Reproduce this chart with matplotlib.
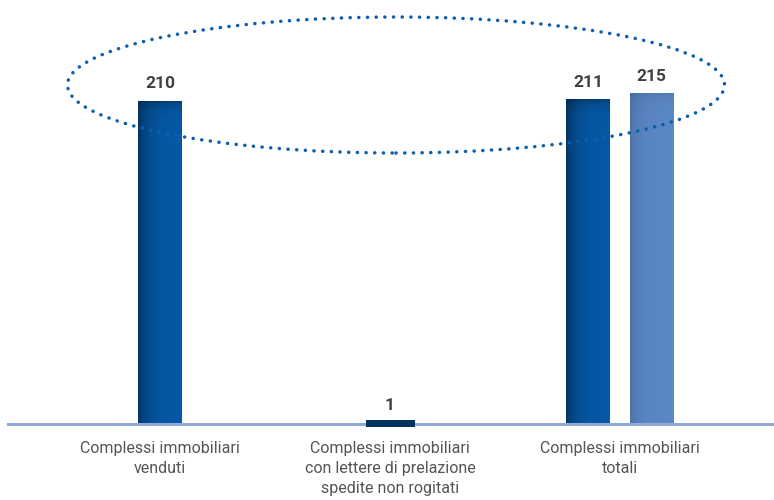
import numpy as np
import matplotlib
matplotlib.use("Agg")
import matplotlib.pyplot as plt
from matplotlib.patches import Ellipse
from matplotlib.colors import to_rgb

# data
categories = ["Complessi immobiliari\nvenduti",
              "Complessi immobiliari\ncon lettere di prelazione\nspedite non rogitati",
              "Complessi immobiliari\ntotali"]
venduti = [210, 1, 211]      # first series, every category
totali_b = [None, None, 215]  # second series, only the last category
series_colors = ["#0659a7", "#5b88c6"]


def shade_bar(ax, rect, base, left_px=11, top_px=6, left_amt=0.40, top_amt=0.28):
    """Overlay a darkened inner shadow (left and top edges) on a bar."""
    x0, y0 = rect.get_x(), rect.get_y()
    w, h = rect.get_width(), rect.get_height()
    (px0, py0), (px1, py1) = ax.transData.transform([(x0, y0), (x0 + w, y0 + h)])
    wpx, hpx = max(px1 - px0, 1), max(py1 - py0, 1)
    nx, ny = 80, max(int(hpx), 4)
    dx = np.linspace(0, wpx, nx)[None, :]
    dy = np.linspace(0, hpx, ny)[:, None]
    shade = 1 - (1 - left_amt * np.exp(-dx / left_px)) * (1 - top_amt * np.exp(-dy / top_px))
    rgb = np.array(to_rgb(base))[None, None, :] * (1 - shade[..., None])
    im = ax.imshow(rgb, extent=(x0, x0 + w, y0, y0 + h), origin="upper",
                   aspect="auto", interpolation="bilinear", zorder=2.1)
    im.set_clip_path(rect)


fig = plt.figure(figsize=(7.74, 5.0), dpi=100)
ax = fig.add_axes([0, 0, 1, 1])
ax.set_xlim(-160 / 230, 614 / 230)
ax.set_ylim(-76 / 1.538, 424 / 1.538)
ax.axis("off")

x = np.arange(len(categories))
width = 44 / 230
offset = 0.138

# positions: single bars sit on the category, the paired group is split
pos_a = [xi - offset if totali_b[i] is not None else xi for i, xi in enumerate(x)]
bars_a = ax.bar(pos_a, venduti, width=width, color=series_colors[0], zorder=2)
pos_b = [x[i] + offset for i, v in enumerate(totali_b) if v is not None]
val_b = [v for v in totali_b if v is not None]
bars_b = ax.bar(pos_b, val_b, width=width, color=series_colors[1], zorder=2)

for r in bars_a:
    shade_bar(ax, r, series_colors[0])
for r in bars_b:
    shade_bar(ax, r, series_colors[1], left_amt=0.15, top_amt=0.08)

# the tiny bar needs some visible thickness, drawn over the baseline
small = bars_a[1]
small.set_edgecolor("#00345f")
small.set_linewidth(3.6)
small.set_facecolor("#00345f")
small.set_zorder(3.5)

# value labels
for r, v in list(zip(bars_a, venduti)) + list(zip(bars_b, val_b)):
    ax.annotate(str(v), (r.get_x() + r.get_width() / 2, v), xytext=(0, 7),
                textcoords="offset points", ha="center", va="bottom",
                fontsize=12.5, fontweight="bold", color="#404040",
                family=["Roboto", "DejaVu Sans"], zorder=5)

# baseline
ax.axhline(0, xmin=8 / 774, xmax=773 / 774, color="#8fa9d9", lw=2.2, zorder=3)

# category labels
for xi, lab in zip(x, categories):
    ax.annotate(lab, (xi, 0), xytext=(0, -12), textcoords="offset points",
                ha="center", va="top", fontsize=11.5, color="#555555",
                family=["Roboto", "DejaVu Sans"], fontweight="normal",
                linespacing=1.42)

# dotted ellipse around the tall bars
ell = Ellipse((396 / 774, 1 - 85 / 500), 657 / 774, 136 / 500,
              transform=fig.transFigure, fill=False, edgecolor="#0b5fae",
              lw=2.5, linestyle=(0, (0.05, 2.45)), zorder=4)
ell.set_capstyle("round")
fig.add_artist(ell)

fig.savefig("out.png", dpi=100)
